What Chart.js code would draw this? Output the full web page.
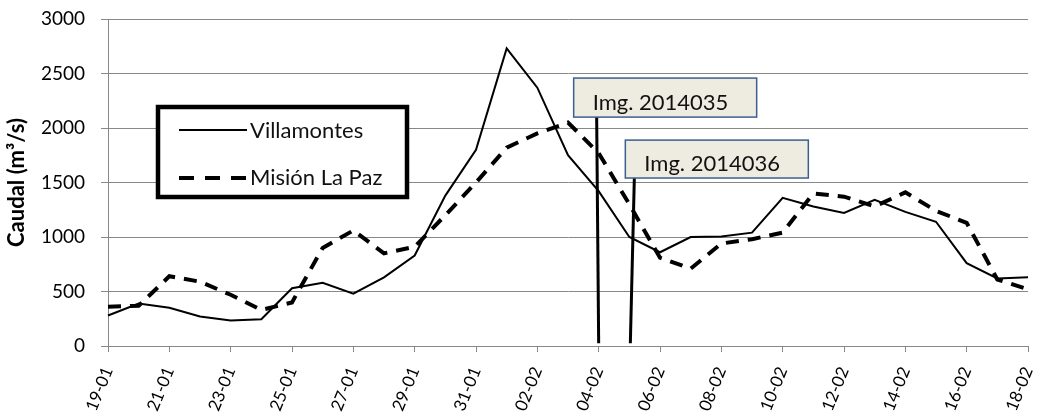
<!DOCTYPE html>
<html>
<head>
<meta charset="utf-8">
<script src="https://cdn.jsdelivr.net/npm/chart.js@4/dist/chart.umd.min.js"></script>
<style>
html,body{margin:0;padding:0;background:#fff;}
#wrap{width:1039px;height:419px;position:relative;}
</style>
</head>
<body>
<div id="wrap"><canvas id="c" width="1039" height="419"></canvas></div>
<script>
const categories = ['19-01','20-01','21-01','22-01','23-01','24-01','25-01','26-01','27-01','28-01','29-01','30-01','31-01',
  '01-02','02-02','03-02','04-02','05-02','06-02','07-02','08-02','09-02','10-02','11-02','12-02','13-02','14-02','15-02','16-02','17-02','18-02'];
const villamontes = [280,390,350,270,235,245,530,580,480,630,830,1380,1800,2730,2370,1750,1420,1000,860,1000,1005,1040,1360,1280,1220,1340,1230,1140,760,620,630];
const misionLaPaz = [360,370,640,590,470,330,400,900,1060,850,910,1200,1500,1820,1950,2050,1770,1300,810,710,940,980,1040,1400,1370,1280,1410,1240,1130,610,520];
const seriesNames = ['Villamontes','Misión La Paz'];
const yTicks = [0,500,1000,1500,2000,2500,3000];
const annotationLabels = ['Img. 2014035','Img. 2014036'];
const annotationDates = ['04-02','05-02'];
const annotationBoxTop = [2458,1889];
const annotationBoxBottom = [2100,1541];

const FONT = 'Lato, "Open Sans", sans-serif';

const overlay = {
  id:'overlay',
  afterDatasetsDraw(chart){
    const ctx = chart.ctx, xs = chart.scales.x, ys = chart.scales.y, ca = chart.chartArea;
    ctx.save();
    const boxDx = [-25,-4], lineTopDx = [-2,5], lineBotDx = [0,1];
    annotationLabels.forEach((lab,i)=>{
      const xi = xs.getPixelForValue(categories.indexOf(annotationDates[i]));
      const top = ys.getPixelForValue(annotationBoxTop[i]);
      const bot = ys.getPixelForValue(annotationBoxBottom[i]);
      const left = xi + boxDx[i];
      ctx.strokeStyle = '#000'; ctx.lineWidth = 3; ctx.lineCap='butt';
      ctx.beginPath(); ctx.moveTo(xi+lineTopDx[i], bot); ctx.lineTo(xi+lineBotDx[i], ys.getPixelForValue(25)); ctx.stroke();
      ctx.fillStyle = '#EEECE1';
      ctx.fillRect(left, top, 183, bot-top);
      ctx.strokeStyle = '#3B5F8F'; ctx.lineWidth = 1.5;
      ctx.strokeRect(left, top, 183, bot-top);
      ctx.fillStyle = '#111';
      ctx.font = '22px ' + FONT;
      ctx.textAlign='left'; ctx.textBaseline='alphabetic';
      ctx.fillText(lab, left+19, bot-7);
    });
    const lx = ca.left + 50, ly = ca.top + 88;
    ctx.fillStyle = '#fff';
    ctx.fillRect(lx, ly, 249, 90);
    ctx.strokeStyle = '#000'; ctx.lineWidth = 4.5;
    ctx.strokeRect(lx, ly, 249, 90);
    ctx.lineWidth = 2;
    ctx.beginPath(); ctx.moveTo(lx+21, ly+23); ctx.lineTo(lx+89, ly+23); ctx.stroke();
    ctx.lineWidth = 4; ctx.setLineDash([15,11]);
    ctx.beginPath(); ctx.moveTo(lx+21, ly+71); ctx.lineTo(lx+89, ly+71); ctx.stroke();
    ctx.setLineDash([]);
    ctx.fillStyle = '#111';
    ctx.font = '22px ' + FONT;
    ctx.textBaseline = 'middle';
    ctx.fillText(seriesNames[0], lx+92, ly+24);
    ctx.fillText(seriesNames[1], lx+92, ly+71);
    ctx.restore();
  }
};

new Chart(document.getElementById('c'), {
  type:'line',
  data:{
    labels: categories,
    datasets:[
      {label:seriesNames[0], data:villamontes, borderColor:'#000', borderWidth:2, pointRadius:0, tension:0, fill:false},
      {label:seriesNames[1], data:misionLaPaz, borderColor:'#000', borderWidth:4, borderDash:[13,9], pointRadius:0, tension:0, fill:false}
    ]
  },
  options:{
    responsive:false, animation:false,
    layout:{padding:{left:0,right:11,top:19,bottom:0}},
    plugins:{legend:{display:false}, tooltip:{enabled:false}},
    scales:{
      x:{
        type:'category', offset:false,
        border:{color:'#888', width:1},
        grid:{drawOnChartArea:false, drawTicks:true, tickLength:6, color:'#888',
          tickColor:(c)=> (c.index%2===0 ? '#888' : 'rgba(0,0,0,0)')},
        ticks:{autoSkip:false, maxRotation:68, minRotation:68, padding:12, color:'#000',
          font:{family:FONT, size:17},
          callback:(v,i)=> i%2===0 ? categories[i] : ''},
        afterFit:(s)=>{ s.height = 73; s.paddingLeft = 0; s.paddingRight = 0; }
      },
      y:{
        min:0, max:3000,
        afterBuildTicks:(s)=>{ s.ticks = yTicks.map(v=>({value:v})); },
        border:{color:'#888', width:1},
        grid:{color:'#888', lineWidth:1, tickLength:7},
        ticks:{color:'#000', padding:16, font:{family:FONT, size:19}, callback:(v)=> String(v)},
        title:{display:true, text:'Caudal (m³/s)', color:'#000', font:{family:FONT, size:22, weight:'bold'}, padding:{top:4,bottom:0}},
        afterFit:(s)=>{ s.width = 108; s.paddingTop = 0; s.paddingBottom = 0; }
      }
    }
  },
  plugins:[overlay]
});
</script>
</body>
</html>
